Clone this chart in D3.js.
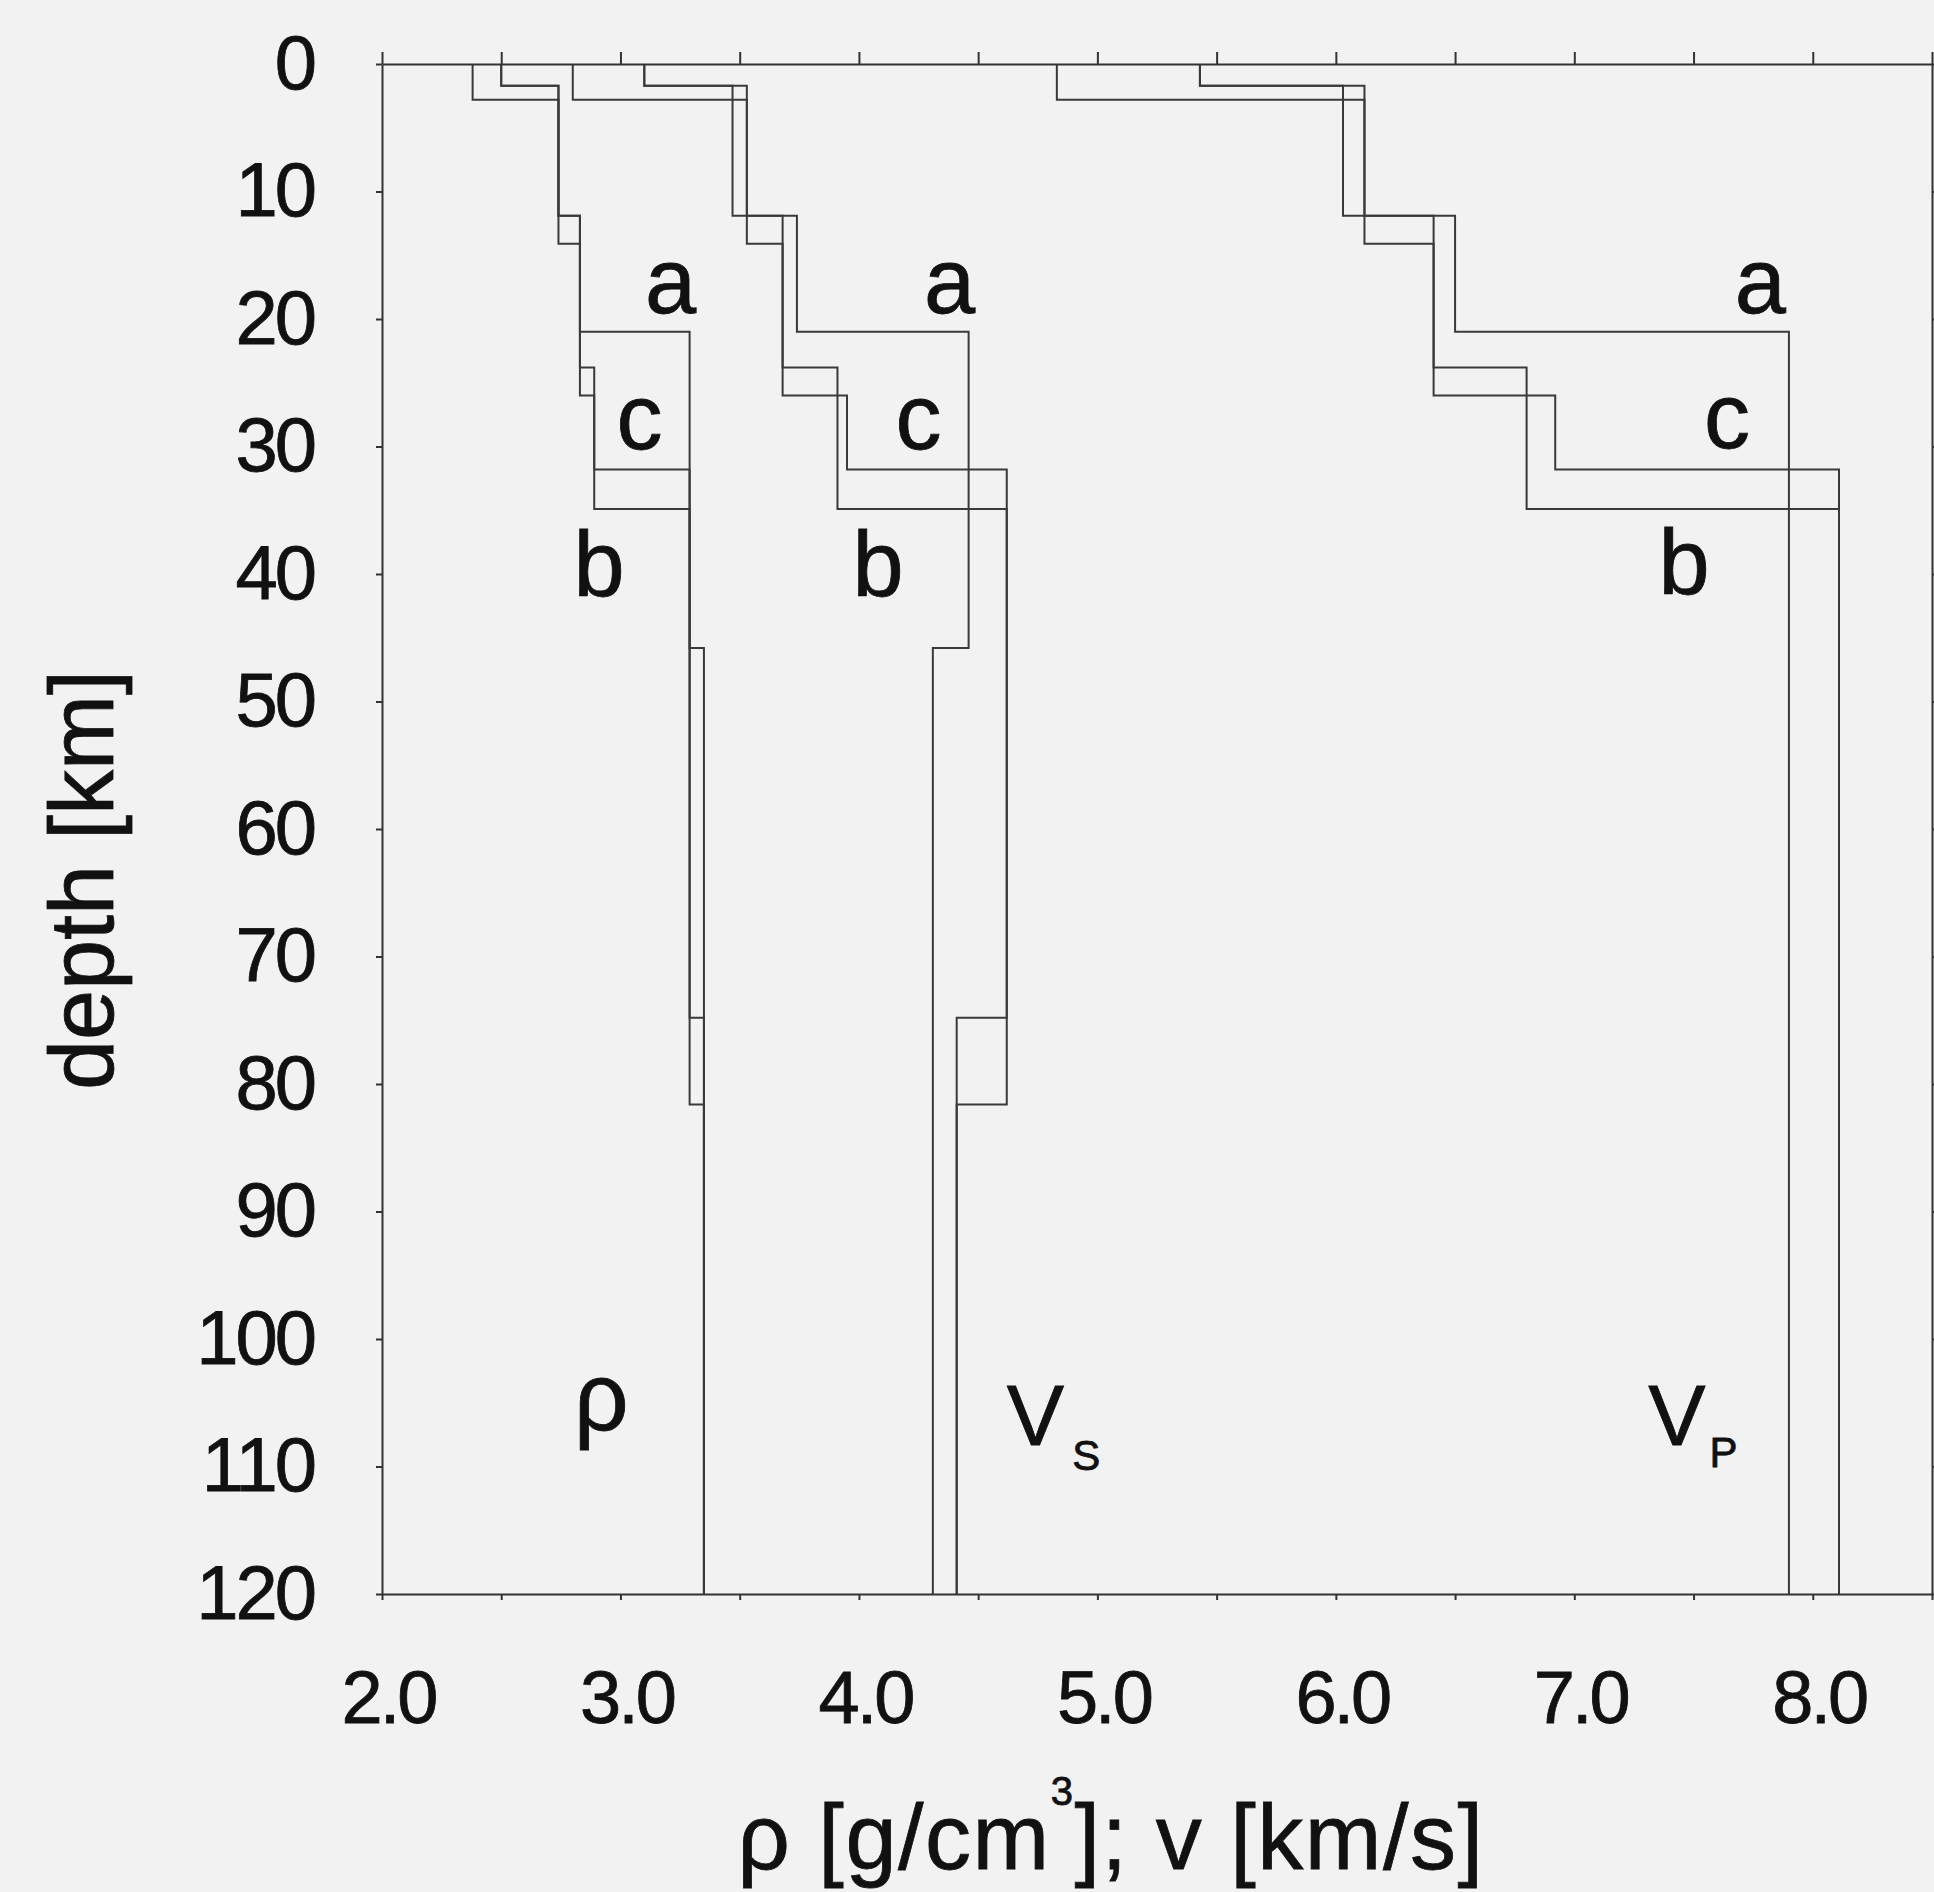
<!DOCTYPE html>
<html lang="en">
<head>
  <meta charset="utf-8">
  <title>depth profiles</title>
  <script src="https://d3js.org/d3.v7.min.js"></script>
  <style>
    body { margin: 0; background: #f2f2f2; }
    .profile { fill: none; stroke: #3a3a3a; stroke-width: 2px; }
    .axis path, .axis line { stroke: #333; stroke-width: 2px; }
    text { font-family: "Liberation Sans", Arial, Helvetica, sans-serif; fill: #111; stroke: #111; stroke-width: 0.8px; }
  </style>
</head>
<body>
<script type="text/javascript">
  // layer boundaries [km] of the three models
  var depth_a = [0, 1.7, 11.9, 21.0, 45.8, 120];
  var depth_b = [0, 2.8, 14.1, 23.8, 34.9, 81.6, 120];
  var depth_c = [0, 1.7, 11.9, 26.0, 31.8, 74.8, 120];

  // density [g/cm3] per layer
  var rho_a = [2.50, 2.74, 2.83, 3.29, 3.35];
  var rho_b = [2.38, 2.74, 2.83, 2.89, 3.29, 3.35];
  var rho_c = [2.50, 2.74, 2.83, 2.89, 3.29, 3.35];

  // S velocity [km/s]
  var vs_a = [3.10, 3.47, 3.74, 4.46, 4.31];
  var vs_b = [2.80, 3.53, 3.68, 3.91, 4.62, 4.41];
  var vs_c = [3.10, 3.53, 3.68, 3.95, 4.62, 4.41];

  // P velocity [km/s]
  var vp_a = [5.43, 6.03, 6.50, 7.90, 7.90];
  var vp_b = [4.83, 6.12, 6.41, 6.80, 8.11, 8.11];
  var vp_c = [5.43, 6.12, 6.41, 6.92, 8.11, 8.11];

  var xTicks = [2, 2.5, 3, 3.5, 4, 4.5, 5, 5.5, 6, 6.5, 7, 7.5, 8, 8.5];
  var xLabels = [2, 3, 4, 5, 6, 7, 8];
  var yTicks = [0, 10, 20, 30, 40, 50, 60, 70, 80, 90, 100, 110, 120];

  // model letters: [text, value, depth]
  var modelLabels = [
    ["a", 3.21, 19.5], ["c", 3.08, 30.2], ["b", 2.91, 41.7],
    ["a", 4.38, 19.5], ["c", 4.25, 30.2], ["b", 4.08, 41.7],
    ["a", 7.78, 19.5], ["c", 7.64, 30.1], ["b", 7.46, 41.6]
  ];

  var width = 1934, height = 1892;
  var x = d3.scaleLinear().domain([2, 8.5]).range([382, 1932]);
  var y = d3.scaleLinear().domain([0, 120]).range([64, 1594]);

  var svg = d3.select("body").append("svg")
    .attr("width", width)
    .attr("height", height);

  svg.append("rect")
    .attr("width", width)
    .attr("height", height)
    .attr("fill", "#f2f2f2");

  // turns layer values into a step profile
  function stepPoints(bounds, vals) {
    var pts = [];
    for (var i = 0; i < vals.length; i++) {
      pts.push([vals[i], bounds[i]]);
      pts.push([vals[i], bounds[i + 1]]);
    }
    return pts;
  }

  var line = d3.line()
    .x(function(d) { return x(d[0]); })
    .y(function(d) { return y(d[1]); });

  var profiles = [
    [depth_a, rho_a], [depth_b, rho_b], [depth_c, rho_c],
    [depth_a, vs_a], [depth_b, vs_b], [depth_c, vs_c],
    [depth_a, vp_a], [depth_b, vp_b], [depth_c, vp_c]
  ];

  svg.selectAll(".profile")
    .data(profiles)
    .enter().append("path")
    .attr("class", "profile")
    .attr("d", function(d) { return line(stepPoints(d[0], d[1])); });

  // axes
  svg.append("g").attr("class", "axis")
    .attr("transform", "translate(0," + y(0) + ")")
    .call(d3.axisTop(x).tickValues(xTicks).tickSize(12).tickSizeOuter(0).tickFormat(""));

  var gBottom = svg.append("g").attr("class", "axis")
    .attr("transform", "translate(0," + y(120) + ")")
    .call(d3.axisBottom(x).tickValues(xTicks).tickSize(6).tickSizeOuter(0)
      .tickFormat(function(d) { return xLabels.indexOf(d) >= 0 ? d.toFixed(1) : ""; }));

  gBottom.selectAll("text")
    .attr("y", 129)
    .attr("dy", 0)
    .attr("dx", 6)
    .style("font-size", "74px")
    .style("letter-spacing", "-3px");

  var gLeft = svg.append("g").attr("class", "axis")
    .attr("transform", "translate(" + x(2) + ",0)")
    .call(d3.axisLeft(y).tickValues(yTicks).tickSize(6).tickPadding(62).tickSizeOuter(0));

  gLeft.selectAll("text")
    .style("font-size", "76px")
    .style("letter-spacing", "-3px");

  svg.append("g").attr("class", "axis")
    .attr("transform", "translate(" + x(8.5) + ",0)")
    .call(d3.axisRight(y).tickValues(yTicks).tickSize(6).tickSizeOuter(0).tickFormat(""));

  // model letters
  svg.selectAll(".mlabel")
    .data(modelLabels)
    .enter().append("text")
    .attr("class", "mlabel")
    .attr("x", function(d) { return x(d[1]); })
    .attr("y", function(d) { return y(d[2]); })
    .attr("text-anchor", "middle")
    .style("font-size", "92px")
    .text(function(d) { return d[0]; });

  // property symbols
  svg.append("text")
    .attr("x", x(2.92))
    .attr("y", y(107.1))
    .attr("text-anchor", "middle")
    .style("font-size", "96px")
    .text("ρ");

  var vsText = svg.append("text")
    .attr("x", x(4.62))
    .attr("y", y(108.3))
    .style("font-size", "86px");
  vsText.append("tspan").text("V");
  vsText.append("tspan").attr("dx", 8).attr("dy", 25).style("font-size", "42px").text("S");

  var vpText = svg.append("text")
    .attr("x", x(7.31))
    .attr("y", y(108.3))
    .style("font-size", "86px");
  vpText.append("tspan").text("V");
  vpText.append("tspan").attr("dx", 4).attr("dy", 22).style("font-size", "42px").text("P");

  // axis titles
  svg.append("text")
    .attr("transform", "translate(113,880) rotate(-90)")
    .attr("text-anchor", "middle")
    .style("font-size", "90px")
    .text("depth [km]");

  var xTitle = svg.append("text")
    .attr("x", 1111)
    .attr("y", 1869)
    .attr("text-anchor", "middle")
    .style("font-size", "92px")
    .style("letter-spacing", "1.5px");
  xTitle.append("tspan").text("ρ [g/cm");
  xTitle.append("tspan").attr("dy", -64).style("font-size", "40px").text("3");
  xTitle.append("tspan").attr("dy", 64).text("]; v [km/s]");
</script>
</body>
</html>
